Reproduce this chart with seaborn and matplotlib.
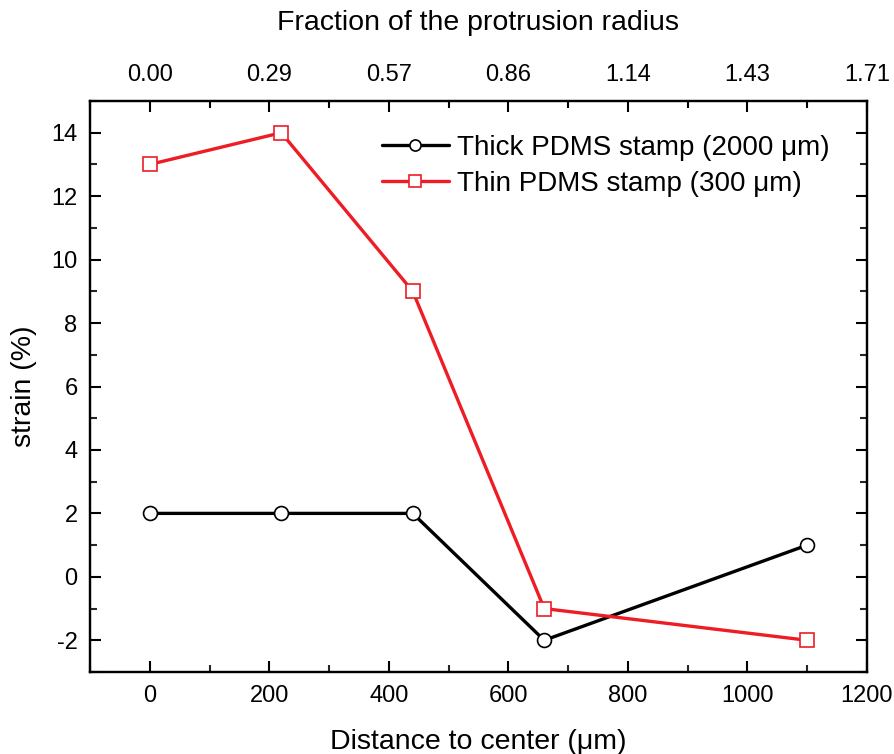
import matplotlib
matplotlib.use("Agg")
import matplotlib.pyplot as plt
import seaborn as sns
from matplotlib.ticker import MultipleLocator, FixedLocator
from matplotlib.lines import Line2D

sns.set_theme(style="white")
plt.rcParams['font.family'] = ['Liberation Sans', 'DejaVu Sans']
plt.rcParams['text.color'] = 'black'
plt.rcParams['axes.labelcolor'] = 'black'

distance = [0, 220, 440, 660, 1100]
thick = [2, 2, 2, -2, 1]
thin = [13, 14, 9, -1, -2]
bottom_ticks = [0, 200, 400, 600, 800, 1000, 1200]
top_labels = ['0.00', '0.29', '0.57', '0.86', '1.14', '1.43', '1.71']
y_ticks = [-2, 0, 2, 4, 6, 8, 10, 12, 14]
label_thick = 'Thick PDMS stamp (2000 \u03bcm)'
label_thin = 'Thin PDMS stamp (300 \u03bcm)'
red = '#ee1c24'

fig = plt.figure(figsize=(8.95, 7.54), dpi=100)
ax = fig.add_axes([90/895, 1-672/754, (867-90)/895, (672-101)/754])

sns.lineplot(x=distance, y=thick, ax=ax, color='black', lw=2.4, marker='o',
             markersize=10, mfc='white', mec='black', mew=1.2)
sns.lineplot(x=distance, y=thin, ax=ax, color=red, lw=2.4, marker='s',
             markersize=10, mfc='white', mec=red, mew=1.2)

ax.set_xlim(-100, 1200)
ax.set_ylim(-3, 15)
ax.xaxis.set_major_locator(FixedLocator(bottom_ticks))
ax.xaxis.set_minor_locator(MultipleLocator(100))
ax.set_yticks(y_ticks)
ax.set_yticklabels([str(v) for v in y_ticks])
ax.yaxis.set_minor_locator(MultipleLocator(1))

for s in ax.spines.values():
    s.set_linewidth(1.6)
    s.set_color('black')

ax.tick_params(which='major', direction='in', length=8, width=1.5, labelsize=17,
               left=True, right=True, bottom=True, top=False, pad=9, colors='black')
ax.tick_params(which='minor', direction='in', length=5, width=1.5,
               left=True, right=True, bottom=True, top=False)
ax.set_xlabel('Distance to center (\u03bcm)', fontsize=20.5, labelpad=16)
ax.set_ylabel('strain (%)', fontsize=20.5, labelpad=10)

ax2 = ax.twiny()
ax2.set_xlim(ax.get_xlim())
ax2.xaxis.set_major_locator(FixedLocator(bottom_ticks))
ax2.set_xticklabels(top_labels)
ax2.xaxis.set_minor_locator(MultipleLocator(100))
ax2.tick_params(which='major', direction='in', length=8, width=1.5, labelsize=17, pad=11, colors='black')
ax2.tick_params(which='minor', direction='in', length=5, width=1.5, colors='black')
ax2.set_xlabel('Fraction of the protrusion radius', fontsize=20.5, labelpad=24)
for s in ax2.spines.values():
    s.set_linewidth(1.6)
    s.set_color('black')

handles = [
    Line2D([], [], color='black', lw=2.4, marker='o', markersize=8, mfc='white', mec='black', mew=1.2),
    Line2D([], [], color=red, lw=2.4, marker='s', markersize=8, mfc='white', mec=red, mew=1.2),
]
leg = ax.legend(handles, [label_thick, label_thin], loc='upper right', frameon=False,
                fontsize=20, handlelength=2.4, handletextpad=0.3, labelspacing=0.35,
                bbox_to_anchor=(0.966, 0.96), borderaxespad=0)

fig.savefig('out.png', dpi=100, facecolor='white')
